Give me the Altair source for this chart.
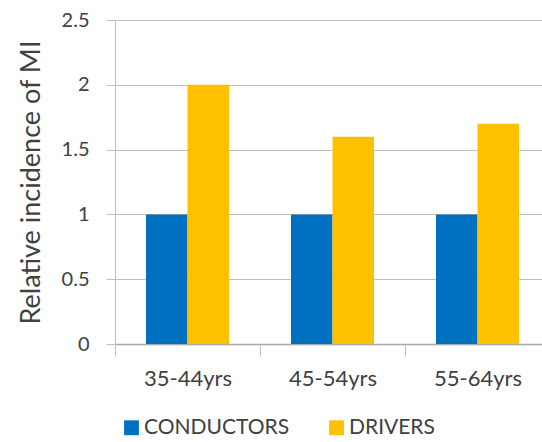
import altair as alt
import pandas as pd

# Relative incidence of myocardial infarction by age band
age_groups = ["35-44yrs", "45-54yrs", "55-64yrs"]
conductors = [1.0, 1.0, 1.0]
drivers = [2.0, 1.6, 1.7]
series_names = ["CONDUCTORS", "DRIVERS"]
series_colors = ["#0070C0", "#FFC000"]

rows = []
for i, age in enumerate(age_groups):
    rows.append({"age": age, "group": series_names[0], "value": conductors[i]})
    rows.append({"age": age, "group": series_names[1], "value": drivers[i]})
df = pd.DataFrame(rows)

font = "Lato"
text_color = "#404040"

chart = alt.Chart(df).mark_bar().encode(
    x=alt.X(
        "age:N",
        sort=age_groups,
        title=None,
        scale=alt.Scale(paddingInner=0, paddingOuter=0, range=[0, 435]),
        axis=alt.Axis(
            labelAngle=0,
            labelFontSize=22,
            labelFont=font,
            labelColor=text_color,
            labelPadding=12,
            tickBand="extent",
            tickSize=12,
            tickColor="#BFBFBF",
            domainColor="#A6A6A6",
            domainWidth=1.5,
            grid=False,
        ),
    ),
    xOffset=alt.XOffset(
        "group:N",
        sort=series_names,
        scale=alt.Scale(paddingInner=0, paddingOuter=0.747),
    ),
    y=alt.Y(
        "value:Q",
        title="Relative incidence of MI",
        scale=alt.Scale(domain=[0, 2.5], nice=False),
        axis=alt.Axis(
            values=[0, 0.5, 1, 1.5, 2, 2.5],
            format="~g",
            labelFontSize=20,
            labelFont=font,
            labelColor=text_color,
            labelPadding=17,
            tickSize=9,
            tickColor="#BFBFBF",
            domainColor="#BFBFBF",
            gridColor="#BFBFBF",
            titleFont=font,
            titleFontSize=27,
            titleFontWeight="normal",
            titleColor=text_color,
            titlePadding=16,
        ),
    ),
    color=alt.Color(
        "group:N",
        sort=series_names,
        scale=alt.Scale(domain=series_names, range=series_colors),
        legend=alt.Legend(
            title=None,
            orient="none",
            direction="horizontal",
            legendX=6,
            legendY=397,
            symbolType="square",
            symbolSize=220,
            symbolStrokeWidth=0,
            labelFontSize=21,
            labelFont=font,
            labelColor=text_color,
            columnPadding=36,
            labelOffset=2,
        ),
    ),
).properties(
    width=427,
    height=324,
    autosize=alt.AutoSizeParams(type="none"),
    padding={"left": 115, "top": 20, "right": 0, "bottom": 98},
).configure_view(stroke=None)

chart.save("out.html", embed_options={"renderer": "svg", "actions": False})
